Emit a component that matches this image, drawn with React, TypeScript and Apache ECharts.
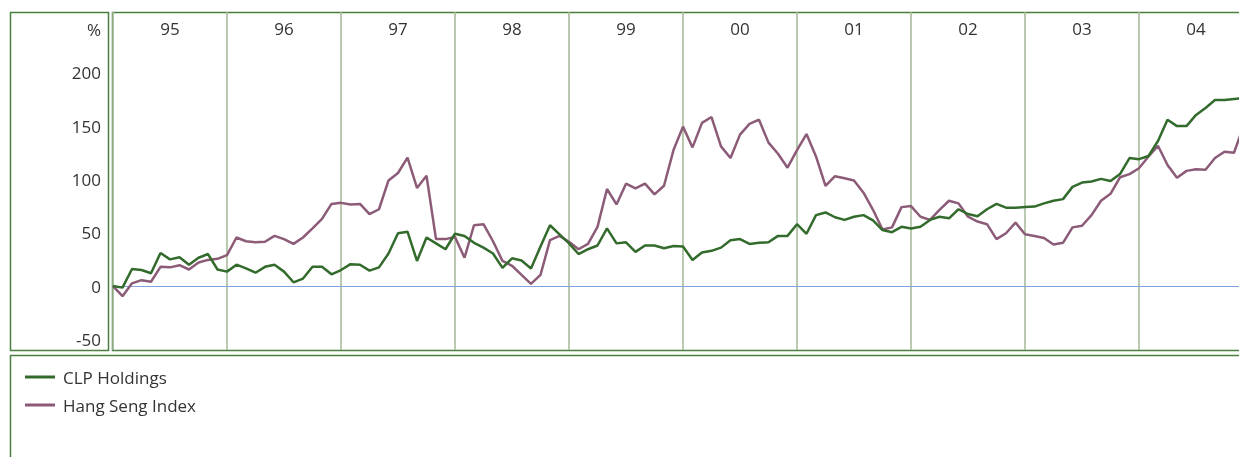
import React, { useEffect, useRef } from "react";
import * as echarts from "echarts";

const years = ["95", "96", "97", "98", "99", "00", "01", "02", "03", "04"];
const yTicks = [-50, 0, 50, 100, 150, 200];

// Monthly relative performance (%), Jan 1995 onwards
const clpHoldings = [
  0, -1.5, 16, 15, 12, 31, 25, 27, 20, 26.5, 30, 15.5,
  13.5, 20, 16.5, 12.5, 18, 20, 13.5, 3.5, 7, 18, 18, 11,
  15, 20.5, 20, 14.5, 17.5, 30.5, 49.5, 51, 23.5, 45.5, 40, 34.5,
  49, 47, 40.5, 36, 30.5, 17, 26, 24, 16.5, 37, 57, 48.5,
  40, 30, 34.5, 38, 54, 40, 41, 32, 38, 38, 35.5, 37.5,
  37, 24.5, 31.5, 33, 36, 43, 44, 39.5, 40.5, 41, 47, 47,
  58, 49, 66.5, 69, 64.5, 62, 65, 66.5, 61.5, 52.5, 50.5, 55.5,
  54, 55.5, 62, 65, 63.5, 72, 67.5, 65.5, 72, 77, 73.5, 73.5,
  74, 74.5, 77.5, 80, 81.5, 93, 97, 98, 100.5, 98.5, 105, 120,
  119, 122, 136, 156, 150, 150, 160.5, 167, 174.5, 174.5, 175.5, 176,
];
const hangSeng = [
  0, -9.5, 2.5, 5.5, 4, 18, 17.5, 19.5, 15.5, 22, 24.5, 25.5,
  29, 45.5, 42, 41, 41.5, 47, 44, 39.5, 45.5, 54, 63, 77,
  78, 76.5, 77, 67.5, 72, 99, 106, 120.5, 92, 103.5, 44, 44,
  46, 26.5, 57, 58, 42, 23.5, 19, 10.5, 2, 10.5, 43, 47,
  41.5, 34.5, 39.5, 55.5, 91, 76.5, 96, 91.5, 96, 86, 94, 127.5,
  149.5, 130, 153, 158.5, 131, 120, 142, 152, 156, 134.5, 124, 111,
  127.5, 142.5, 121.5, 94, 103, 101, 99, 87.5, 71.5, 53, 55, 74,
  75, 65, 62, 71.5, 80, 77.5, 65, 60.5, 58, 44, 49.5, 59.5,
  48.5, 47, 45, 39, 40.5, 55, 56.5, 66.5, 80, 86.5, 102, 105,
  110.5, 121.5, 131.5, 113.5, 101.5, 108, 109.5, 109, 120, 126, 125, 150,
];

const FONT = "'Open Sans', 'Noto Sans', sans-serif";
const BOX = "#4a7f40";

export default function App() {
  const ref = useRef<HTMLDivElement>(null);

  useEffect(() => {
    if (!ref.current) return;
    const chart = echarts.init(ref.current, undefined, { renderer: "svg" });
    const toPairs = (arr: number[]) => arr.map((v, i) => [i, v]);
    chart.setOption({
      animation: false,
      textStyle: { fontFamily: FONT },
      grid: {
        left: 113,
        top: 12,
        width: years.length * 114,
        height: 338,
        outerBoundsMode: "none",
        containLabel: false,
      },
      xAxis: [
        {
          type: "value",
          min: 0,
          max: years.length * 12,
          interval: 12,
          axisLine: { show: false },
          axisTick: { show: false },
          axisLabel: { show: false },
          splitLine: { show: true, lineStyle: { color: "#a3b996", width: 1.5 } },
        },
        {
          type: "category",
          position: "top",
          data: years,
          boundaryGap: true,
          axisLine: { show: false },
          axisTick: { show: false },
          splitLine: { show: false },
          axisLabel: {
            inside: true,
            margin: 8,
            fontSize: 17,
            color: "#333",
            fontFamily: FONT,
          },
        },
      ],
      yAxis: {
        type: "value",
        min: -60,
        max: 257,
        axisLine: { show: false },
        axisTick: { show: false },
        splitLine: { show: false },
        axisLabel: {
          customValues: yTicks,
          margin: 12,
          fontSize: 17,
          color: "#333",
          fontFamily: FONT,
        },
      },
      legend: {
        orient: "vertical",
        left: 20,
        top: 362,
        icon: "rect",
        itemWidth: 30,
        itemHeight: 3,
        itemGap: 8,
        textStyle: {
          fontSize: 17,
          color: "#333",
          fontFamily: FONT,
          lineHeight: 20,
          padding: [0, 0, 0, 3],
        },
        data: ["CLP Holdings", "Hang Seng Index"],
      },
      graphic: [
        {
          type: "rect",
          shape: { x: 10.5, y: 12.5, width: 98, height: 338 },
          style: { fill: "none", stroke: BOX, lineWidth: 1.5 },
          silent: true,
        },
        {
          type: "rect",
          shape: { x: 112.5, y: 12.5, width: 1200, height: 338 },
          style: { fill: "none", stroke: BOX, lineWidth: 1.5 },
          silent: true,
        },
        {
          type: "rect",
          shape: { x: 10.5, y: 355.5, width: 1300, height: 200 },
          style: { fill: "none", stroke: BOX, lineWidth: 1.5 },
          silent: true,
        },
        {
          type: "text",
          x: 101,
          y: 29,
          style: {
            text: "%",
            align: "right",
            verticalAlign: "middle",
            fontSize: 17,
            fill: "#333",
            fontFamily: FONT,
          },
          silent: true,
        },
      ],
      series: [
        {
          name: "Hang Seng Index",
          type: "line",
          data: toPairs(hangSeng),
          symbol: "none",
          lineStyle: { color: "#8c5b77", width: 2.5 },
          itemStyle: { color: "#8c5b77" },
          z: 3,
          markLine: {
            silent: true,
            symbol: "none",
            label: { show: false },
            lineStyle: { color: "#7fa3e0", width: 1, type: "solid" },
            data: [{ yAxis: 0 }],
            z: 1,
          },
        },
        {
          name: "CLP Holdings",
          type: "line",
          data: toPairs(clpHoldings),
          symbol: "none",
          lineStyle: { color: "#336b2c", width: 2.5 },
          itemStyle: { color: "#336b2c" },
          z: 4,
        },
      ],
    });
    return () => chart.dispose();
  }, []);

  return (
    <div
      ref={ref}
      style={{ position: "fixed", left: 0, top: 0, width: 1239, height: 457 }}
    />
  );
}
